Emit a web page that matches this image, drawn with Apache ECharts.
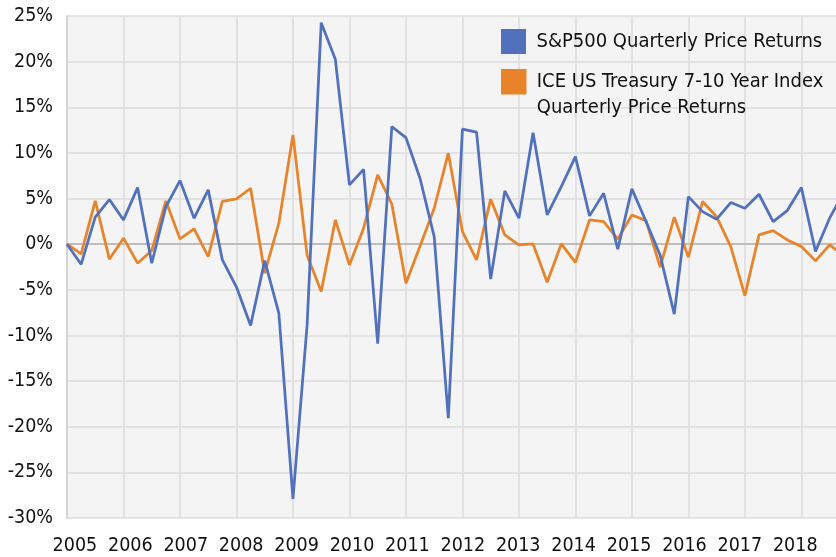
<!DOCTYPE html>
<html><head><meta charset="utf-8">
<script src="https://cdn.jsdelivr.net/npm/echarts@6/dist/echarts.min.js"></script>
<style>html,body{margin:0;padding:0;background:#fff}#c{width:836px;height:557px}</style>
</head><body><div id="c"></div>
<script>
// ---- data ----
const startYear = 2005;
const yearLabels = ['2005','2006','2007','2008','2009','2010','2011','2012','2013','2014','2015','2016','2017','2018'];
const seriesNames = ['S&P500 Quarterly Price Returns', 'ICE US Treasury 7-10 Year Index\nQuarterly Price Returns'];
const spxReturns = [0, -2.2, 2.96, 4.89, 2.66, 6.2, -2.08, 4.1, 6.97, 2.85, 5.95, -1.72, -4.7, -8.9, -1.8, -7.56,
  -27.9, -8.9, 24.27, 20.26, 6.5, 8.2, -10.9, 12.88, 11.68, 7.2, 0.83, -19.06, 12.6, 12.27, -3.83, 5.84,
  2.85, 12.2, 3.2, 6.3, 9.6, 3.1, 5.58, -0.55, 6.06, 2.48, -1.2, -7.67, 5.21, 3.57, 2.74, 4.56,
  3.94, 5.47, 2.48, 3.68, 6.2, -0.81, 2.85, 5.7];
const iceReturns = [0, -1.06, 4.74, -1.64, 0.66, -2.08, -0.7, 4.74, 0.58, 1.68, -1.36, 4.7, 4.96, 6.13, -3.18, 2.3,
  11.97, -1.2, -5.19, 2.66, -2.27, 1.75, 7.59, 4.4, -4.27, -0.2, 3.94, 9.97, 1.38, -1.72, 4.93, 1.02,
  -0.08, 0.03, -4.16, 0.03, -2.0, 2.66, 2.48, 0.55, 3.2, 2.58, -2.52, 2.96, -1.43, 4.67, 3.0, -0.26,
  -5.63, 1.02, 1.49, 0.47, -0.26, -1.83, -0.08, -1.25];

// ---- chart ----
const FONT = '"Liberation Sans Narrow", "DejaVu Sans Condensed", "Arial Narrow", sans-serif';
const BLUE = '#5171bd';
const ORANGE = '#e8832a';
const quarterTime = spxReturns.map((_, i) => startYear + i * 0.25);
const toPairs = arr => arr.map((v, i) => [quarterTime[i], v]);

const PLOT_W = 769;
const YEAR_PX = 56.49;
const LABEL_STEP_PX = 7.916; // label axis unit (7 units per year label)

const chart = echarts.init(document.getElementById('c'), null, {renderer: 'canvas'});
chart.setOption({
  backgroundColor: '#ffffff',
  animation: false,
  grid: {left: 67, right: 0, top: 16, bottom: 39, show: true, backgroundColor: '#f4f4f4', borderWidth: 0,
         containLabel: false, outerBoundsMode: 'none'},
  xAxis: [
    {
      type: 'value', min: startYear, max: startYear + PLOT_W / YEAR_PX, interval: 1,
      axisLine: {show: true, onZero: true, lineStyle: {color: '#bdbdbd', width: 2}},
      axisTick: {show: false}, axisLabel: {show: false},
      splitLine: {show: true, showMaxLine: false, lineStyle: {color: '#dcdcdc', width: 1.5}}
    },
    {
      type: 'value', position: 'bottom', min: 0, max: PLOT_W / LABEL_STEP_PX, interval: 1,
      axisLine: {show: false, onZero: false}, axisTick: {show: false}, splitLine: {show: false},
      axisLabel: {
        show: true, margin: 18, fontFamily: FONT, fontSize: 19.5, color: '#111',
        showMinLabel: true, showMaxLabel: false,
        formatter: v => {
          const k = Math.round(v);
          if (Math.abs(v - k) > 1e-6 || (k - 1) % 7 !== 0) return '';
          return yearLabels[(k - 1) / 7] || '';
        }
      }
    }
  ],
  yAxis: {
    type: 'value', min: -30, max: 25, interval: 5,
    axisLine: {show: true, lineStyle: {color: '#d4d4d4', width: 2}},
    axisTick: {show: false},
    splitLine: {show: true, lineStyle: {color: '#dcdcdc', width: 1.5}},
    axisLabel: {formatter: '{value}%', margin: 14, fontFamily: FONT, fontSize: 19.5, color: '#111', padding: [4, 0, 0, 0]}
  },
  legend: [
    {
      data: [{name: seriesNames[0], icon: 'path://M0,0H25V25H0Z M30,24.99H30.01V25H30Z'}],
      left: 501, top: 29, padding: 0, itemWidth: 31, itemHeight: 25,
      textStyle: {fontFamily: FONT, fontSize: 20, color: '#111'}
    },
    {
      data: [{name: seriesNames[1], icon: 'path://M0,0H25V25H0Z M30,51H30.01V51.01H30Z'}],
      left: 501, top: 69, padding: 0, itemWidth: 31, itemHeight: 52,
      textStyle: {fontFamily: FONT, fontSize: 20, lineHeight: 26, color: '#111'}
    }
  ],
  series: [
    {
      name: seriesNames[0], type: 'line', xAxisIndex: 0, data: toPairs(spxReturns),
      showSymbol: false, symbol: 'none', z: 3,
      lineStyle: {color: BLUE, width: 2.75}, itemStyle: {color: BLUE}
    },
    {
      name: seriesNames[1], type: 'line', xAxisIndex: 0, data: toPairs(iceReturns),
      showSymbol: false, symbol: 'none', z: 2,
      lineStyle: {color: ORANGE, width: 2.75}, itemStyle: {color: ORANGE}
    }
  ]
});
</script>
</body></html>
